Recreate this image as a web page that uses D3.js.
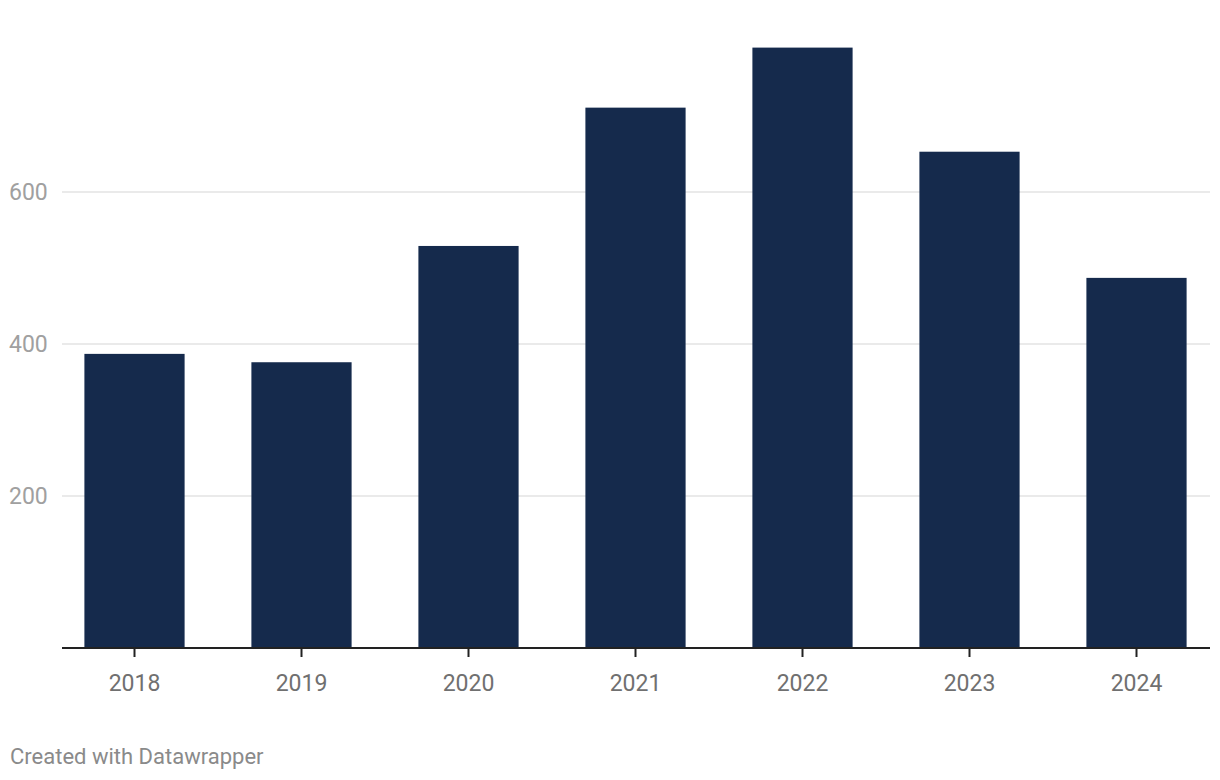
<!DOCTYPE html>
<html><head><meta charset="utf-8">
<script src="https://cdn.jsdelivr.net/npm/d3@7"></script>
<style>body{margin:0;background:#fff;font-family:Roboto,sans-serif}</style>
</head><body><svg id="c" width="1220" height="780"></svg>
<script>
const years = ["2018","2019","2020","2021","2022","2023","2024"];
const values = [387, 376, 529, 711, 790, 653, 487];
const yTicks = [200, 400, 600];
const footer = "Created with Datawrapper";

const svg = d3.select("#c");
const y = d3.scaleLinear().domain([0, 200]).range([648, 496]);
const x = d3.scaleBand().domain(years).range([51, 1220]).paddingInner(0.4).paddingOuter(0.2);

svg.append("g").selectAll("line").data(yTicks).join("line")
  .attr("x1", 62).attr("x2", 1210)
  .attr("y1", d => y(d)).attr("y2", d => y(d))
  .attr("stroke", "#e3e3e3").attr("stroke-width", 1.5);
svg.append("g").selectAll("text").data(yTicks).join("text")
  .attr("x", 9).attr("y", d => y(d)).attr("dy", "0.36em")
  .attr("font-size", 23).attr("fill", "#a0a0a0").text(d => d);

svg.append("g").selectAll("rect").data(values).join("rect")
  .attr("x", (d, i) => x(years[i])).attr("width", x.bandwidth())
  .attr("y", d => y(d)).attr("height", d => y(0) - y(d))
  .attr("fill", "#152a4c");

const ax = svg.append("g").attr("transform", `translate(0,${y(0)})`)
  .call(d3.axisBottom(x).tickSize(9).tickPadding(18));
ax.select(".domain").attr("d", "M62,0H1210").attr("stroke", "#222").attr("stroke-width", 2);
ax.selectAll(".tick line").attr("stroke", "#222").attr("stroke-width", 2);
ax.selectAll(".tick text").attr("font-size", 23).attr("fill", "#707070").attr("font-family", "Roboto");

svg.append("text").attr("x", 10).attr("y", 764).attr("font-size", 22)
  .attr("fill", "#8a8a8a").text(footer);
</script></body></html>
